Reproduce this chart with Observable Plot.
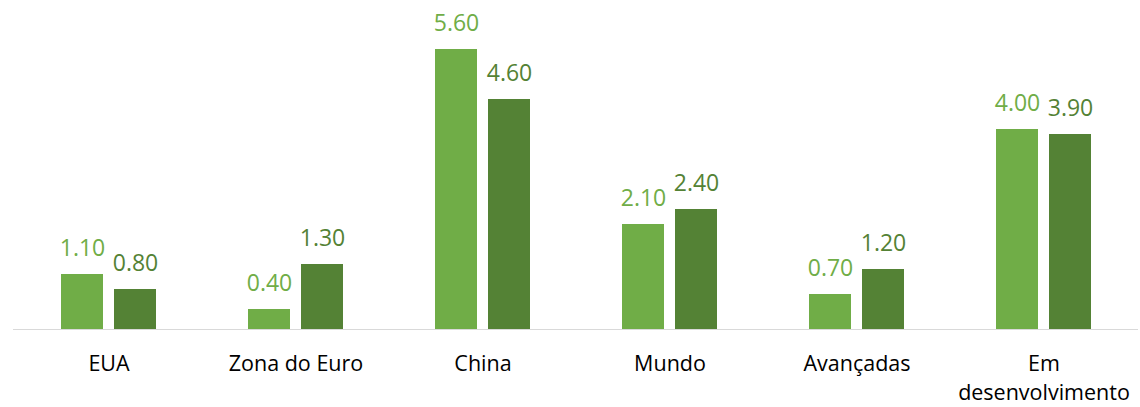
<!DOCTYPE html>
<html>
<head>
<meta charset="utf-8">
<script src="https://cdn.jsdelivr.net/npm/d3@7"></script>
<script src="https://cdn.jsdelivr.net/npm/@observablehq/plot@0.6"></script>
<style>
  html, body { margin: 0; padding: 0; background: #fff; }
  #chart svg { display: block; }
</style>
</head>
<body>
<div id="chart"></div>
<script>
const categories = ["EUA", "Zona do Euro", "China", "Mundo", "Avançadas", "Em desenvolvimento"];
const tickLabels = ["EUA", "Zona do Euro", "China", "Mundo", "Avançadas", "Em\ndesenvolvimento"];
const seriesNames = ["Série 1", "Série 2"];
const series1 = [1.1, 0.4, 5.6, 2.1, 0.7, 4.0];
const series2 = [0.8, 1.3, 4.6, 2.4, 1.2, 3.9];
const colors = ["#70AD47", "#548235"];

const rows = [];
categories.forEach((c, i) => {
  rows.push({cat: c, series: seriesNames[0], value: series1[i]});
  rows.push({cat: c, series: seriesNames[1], value: series2[i]});
});
const rowsA = rows.filter(d => d.series === seriesNames[0]);
const rowsB = rows.filter(d => d.series === seriesNames[1]);
const labelMap = new Map(categories.map((c, i) => [c, tickLabels[i]]));

const font = "'Open Sans', 'Liberation Sans', sans-serif";

const chart = Plot.plot({
  width: 1140,
  height: 407,
  marginLeft: 13,
  marginRight: 2,
  marginTop: 29,
  marginBottom: 78,
  style: {fontFamily: font, background: "#fff"},
  x: {domain: categories, paddingInner: 0.4933, paddingOuter: 0.24667, label: null},
  y: {domain: [0, 6], axis: null},
  marks: [
    Plot.barY(rowsA, {x: "cat", y: "value", fill: colors[0], insetRight: 53}),
    Plot.barY(rowsB, {x: "cat", y: "value", fill: colors[1], insetLeft: 53}),
    Plot.ruleY([0], {stroke: "#D9D9D9", strokeWidth: 1}),
    Plot.text(rowsA, {x: "cat", y: "value", text: d => d.value.toFixed(2), fill: colors[0], dx: -26.5, dy: -19, lineAnchor: "bottom", fontSize: 23}),
    Plot.text(rowsB, {x: "cat", y: "value", text: d => d.value.toFixed(2), fill: colors[1], dx: 26.5, dy: -19, lineAnchor: "bottom", fontSize: 23}),
    Plot.axisX({tickSize: 0, tickPadding: 21, tickFormat: d => labelMap.get(d), fontSize: 21.5, fill: "#000", lineHeight: 1.35, label: null})
  ]
});
document.getElementById("chart").appendChild(chart);
</script>
</body>
</html>
